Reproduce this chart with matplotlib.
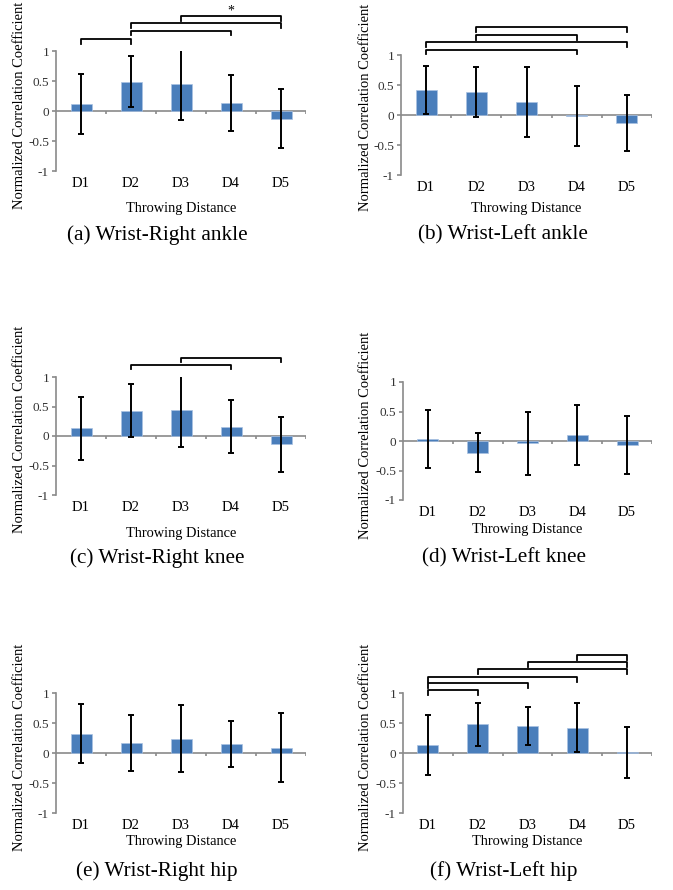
import matplotlib
matplotlib.use('Agg')
import matplotlib.pyplot as plt

plt.rcParams['font.family'] = ['Liberation Serif', 'DejaVu Serif']

# distances on the x axis
categories = ['D1', 'D2', 'D3', 'D4', 'D5']

# mean normalized correlation coefficient and its std, per panel
means_a = [0.12, 0.49, 0.45, 0.13, -0.13]
errs_a = [0.50, 0.43, 0.60, 0.47, 0.49]
means_b = [0.41, 0.38, 0.22, -0.01, -0.13]
errs_b = [0.40, 0.42, 0.58, 0.50, 0.47]
means_c = [0.13, 0.43, 0.44, 0.16, -0.14]
errs_c = [0.53, 0.45, 0.63, 0.45, 0.47]
means_d = [0.03, -0.20, -0.04, 0.10, -0.07]
errs_d = [0.49, 0.33, 0.53, 0.51, 0.49]
means_e = [0.32, 0.17, 0.24, 0.15, 0.09]
errs_e = [0.49, 0.47, 0.56, 0.39, 0.58]
means_f = [0.13, 0.48, 0.45, 0.42, 0.01]
errs_f = [0.50, 0.36, 0.32, 0.41, 0.43]

# significance brackets: (from, to, height, label)
brackets_a = [(0, 1, 1.20, ''), (1, 3, 1.34, ''), (1, 4, 1.46, ''), (2, 4, 1.58, '*')]
brackets_b = [(1, 4, 1.46, ''), (1, 3, 1.33, ''), (0, 4, 1.21, ''), (0, 3, 1.09, '')]
brackets_c = [(1, 3, 1.21, ''), (2, 4, 1.33, '')]
brackets_d = []
brackets_e = []
brackets_f = [(0, 1, 1.05, ''), (0, 2, 1.16, ''), (0, 3, 1.27, ''),
              (1, 4, 1.40, ''), (2, 4, 1.51, ''), (3, 4, 1.63, '')]

captions = ['(a) Wrist-Right ankle', '(b) Wrist-Left ankle', '(c) Wrist-Right knee',
            '(d) Wrist-Left knee', '(e) Wrist-Right hip', '(f) Wrist-Left hip']

W, H = 673, 890
BAR = '#4a7ebb'
GRAY = '#8a8a8a'

fig = plt.figure(figsize=(W / 100, H / 100), dpi=100)


def px_rect(left, top, right, bottom):
    return [left / W, 1 - bottom / H, (right - left) / W, (bottom - top) / H]


def panel(rect, means, errs, brackets, caption, ylab_x, ylab_y, xlab_y, cap_y):
    ax = fig.add_axes(px_rect(*rect))
    x = list(range(len(categories)))
    ax.bar(x, means, width=0.42, color=BAR, edgecolor='#a9c2e2', linewidth=0.5, zorder=2)
    ax.errorbar(x, means, yerr=errs, fmt='none', ecolor='black', elinewidth=1.4,
                capsize=2.5, capthick=1.4, zorder=3)
    ax.set_xlim(-0.5, len(categories) - 0.5)
    ax.set_ylim(-1, 1)
    for s in ['top', 'right', 'bottom']:
        ax.spines[s].set_visible(False)
    ax.spines['left'].set_color(GRAY)
    ax.spines['left'].set_linewidth(1.2)
    ax.axhline(0, color=GRAY, lw=1.2, zorder=1)
    ax.vlines([i + 0.5 for i in x], -0.045, 0, color=GRAY, lw=1.2, zorder=1)
    ax.set_yticks([-1, -0.5, 0, 0.5, 1])
    ax.set_yticklabels(['-1', '-0.5', '0', '0.5', '1'])
    ax.tick_params(axis='y', direction='out', length=3, width=1.2, color=GRAY,
                   labelsize=9.5, labelcolor='#333333', pad=2)
    ax.set_xticks(x)
    ax.set_xticklabels(categories)
    ax.tick_params(axis='x', length=0, labelsize=10.5, pad=4)
    ax.set_ylabel('Normalized Correlation Coefficient', fontsize=10.5)
    ax.yaxis.set_label_coords(ylab_x, ylab_y)
    ax.set_xlabel('Throwing Distance', fontsize=10.4)
    ax.xaxis.set_label_coords(0.5, xlab_y)
    ax.patch.set_alpha(0)
    for a, b, h, lab in brackets:
        ax.plot([a, a, b, b], [h - 0.08, h, h, h - 0.08], color='black', lw=1.3,
                clip_on=False, zorder=4)
        if lab:
            ax.text((a + b) / 2, h - 0.02, lab, ha='center', va='bottom',
                    fontsize=10, clip_on=False)
    cx = (rect[0] + rect[2]) / 2 - 24
    fig.text(cx / W, 1 - cap_y / H, caption, ha='center', va='center', fontsize=15.3)
    return ax


panel((56, 51, 306, 171), means_a, errs_a, brackets_a, captions[0], -0.12, 0.55, -0.26, 235)
panel((401, 55, 652, 175), means_b, errs_b, brackets_b, captions[1], -0.115, 0.56, -0.225, 235)
panel((56, 377, 306, 495), means_c, errs_c, brackets_c, captions[2], -0.12, 0.56, -0.27, 558)
panel((403, 382, 652, 500), means_d, errs_d, brackets_d, captions[3], -0.125, 0.55, -0.195, 558)
panel((56, 693, 306, 813), means_e, errs_e, brackets_e, captions[4], -0.12, 0.55, -0.18, 871)
panel((403, 693, 652, 813), means_f, errs_f, brackets_f, captions[5], -0.125, 0.545, -0.18, 871)

fig.savefig('out.png', dpi=100)
